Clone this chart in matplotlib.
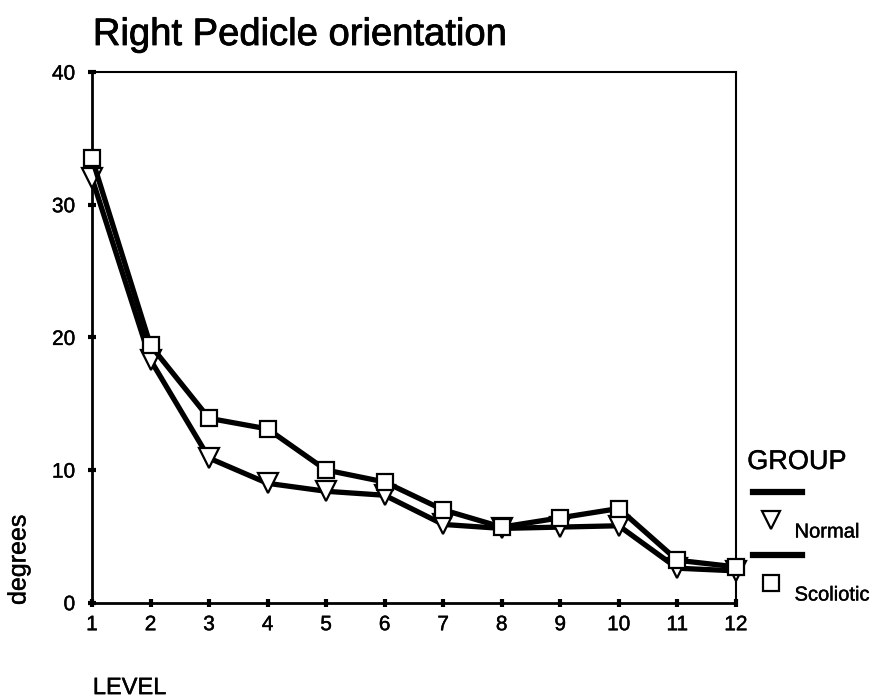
import matplotlib
matplotlib.use("Agg")
import matplotlib.pyplot as plt
import matplotlib.patheffects as pe
from matplotlib.lines import Line2D

plt.rcParams['font.family'] = ['Liberation Sans', 'DejaVu Sans']

# data
levels = list(range(1, 13))
normal = [32.0, 18.3, 10.9, 9.0, 8.4, 8.1, 5.9, 5.6, 5.7, 5.8, 2.6, 2.4]
scoliotic = [33.5, 19.4, 13.9, 13.1, 10.0, 9.1, 7.0, 5.7, 6.4, 7.1, 3.2, 2.7]
group_names = ['Normal', 'Scoliotic']
yticks = [0, 10, 20, 30, 40]

# slightly heavier text, like the scanned original
heavy = [pe.withStroke(linewidth=0.6, foreground='black')]
light = [pe.withStroke(linewidth=0.3, foreground='black')]

fig = plt.figure(figsize=(8.76, 7.0), dpi=100)
ax = fig.add_axes([0.105, 0.139, 0.735, 0.758])

ax.plot(levels, normal, color='black', lw=3.8, marker='v', ms=14,
        mfc='white', mec='black', mew=1.6, zorder=3, clip_on=False)
ax.plot(levels, scoliotic, color='black', lw=3.8, marker='s', ms=12,
        mfc='white', mec='black', mew=1.6, zorder=3, clip_on=False)

ax.set_xlim(1, 12)
ax.set_ylim(0, 40)
ax.set_xticks(levels)
ax.set_yticks(yticks)
ax.tick_params(direction='inout', length=6, width=3, labelsize=15)
ax.tick_params(axis='y', pad=9)
ax.tick_params(axis='x', pad=6)
for lab in ax.get_xticklabels() + ax.get_yticklabels():
    lab.set_path_effects(light)
for side in ['left', 'bottom']:
    ax.spines[side].set_linewidth(2)
for side in ['top', 'right']:
    ax.spines[side].set_linewidth(1.5)

fig.text(0.106, 0.950, 'Right Pedicle orientation', fontsize=27.5,
         ha='left', va='center', path_effects=heavy)
fig.text(0.021, 0.200, 'degrees', fontsize=18, rotation=90,
         ha='center', va='center', path_effects=light)
fig.text(0.106, 0.017, 'LEVEL', fontsize=17, ha='left', va='center',
         path_effects=light)

# legend drawn by hand to mimic the original layout
fig.text(0.853, 0.340, 'GROUP', fontsize=19.5, ha='left', va='center',
         path_effects=light)
markers = ['v', 's']
rows = [0.297, 0.207]
for name, mk, y in zip(group_names, markers, rows):
    fig.add_artist(Line2D([0.860, 0.915], [y, y], color='black', lw=4.5,
                          transform=fig.transFigure))
    fig.add_artist(Line2D([0.880], [y - 0.040], marker=mk,
                          ms=13 if mk == 'v' else 11,
                          mfc='white', mec='black', mew=1.6, ls='none',
                          transform=fig.transFigure))
    fig.text(0.907, y - 0.057, name, fontsize=14.5, ha='left', va='center',
             path_effects=light)

fig.savefig('out.png', dpi=100)
